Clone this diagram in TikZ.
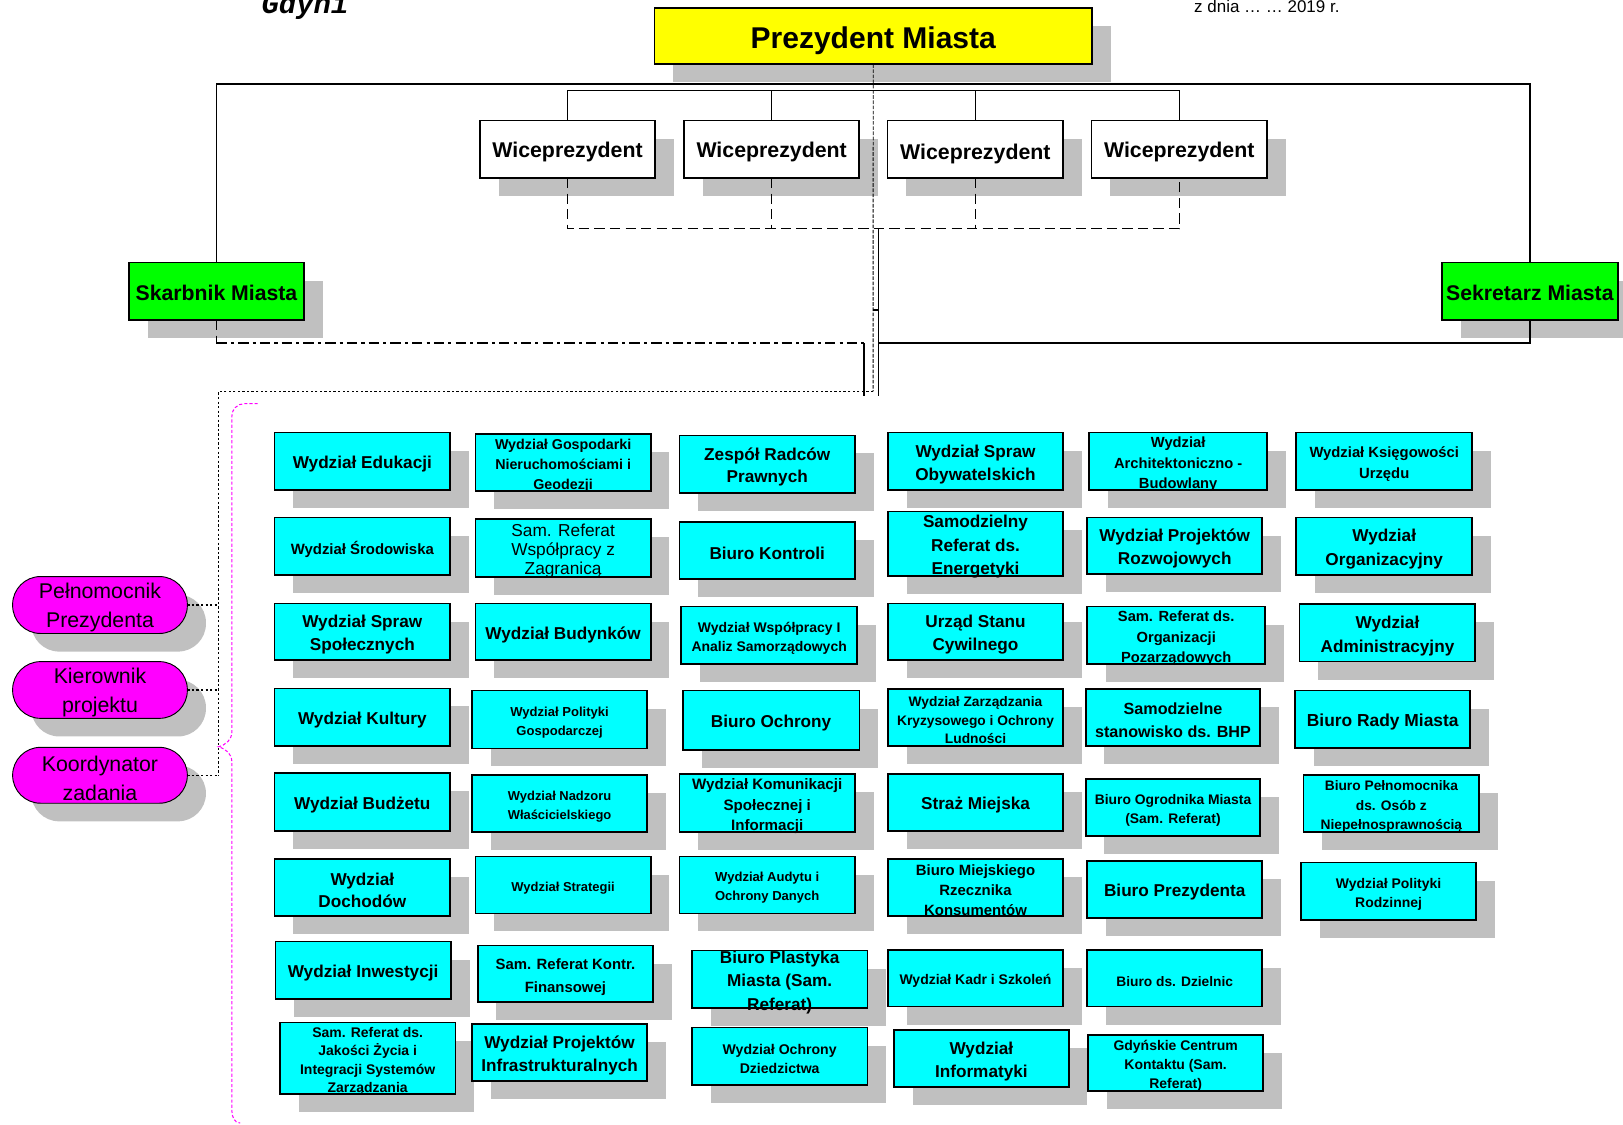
\documentclass[tikz,border=0pt]{standalone}
\usepackage{fontspec}
\setmainfont{Liberation Sans}
\newfontfamily\courfam{Liberation Mono}
\usetikzlibrary{shadows}
\definecolor{shgray}{RGB}{192,192,192}
\definecolor{cyanx}{RGB}{0,255,255}
\definecolor{greenx}{RGB}{0,255,0}
\definecolor{yellowx}{RGB}{255,255,0}
\definecolor{magx}{RGB}{255,0,255}
\newcommand\fz[2]{\fontsize{#1}{#2}\selectfont\bfseries}
\newcommand\fr[2]{\fontsize{#1}{#2}\selectfont}
% #1 box style, #2 text style, #3-#6 corners, #7 name, #8 text
\newcommand\bx[8]{%
  \node[#1,minimum width={(#5)-(#3)},minimum height={(#6)-(#4)}] (#7) at ({((#3)+(#5))/2},{((#4)+(#6))/2}) {};
  \node[txt,#2] (#7t) at (#7.center) {#8};}
\tikzset{
  sh/.style={drop shadow={shadow xshift=18pt,shadow yshift=-17.5pt,opacity=1,fill=shgray}},
  basebox/.style={rectangle,draw=black,inner sep=0pt,outer sep=0pt,sh},
  txt/.style={inner sep=0pt,outer sep=0pt,align=center,yshift=-2.8pt},
  ubox/.style={basebox,fill=cyanx,line width=1.6pt},
  vpbox/.style={basebox,fill=white,line width=1.5pt},
  gbox/.style={basebox,fill=greenx,line width=1.5pt},
  ybox/.style={basebox,fill=yellowx,line width=1.5pt},
  pill/.style={basebox,fill=magx,line width=0.9pt,rounded corners=27pt},
  tL/.style={font=\fz{16.6}{22}},
  tVP/.style={font=\fz{20.6}{24}},
  frameline/.style={line width=1.4pt},
  busline/.style={line width=1.3pt},
  thinbus/.style={line width=0.8pt},
  vpdash/.style={line width=1.3pt,dash pattern=on 10pt off 5pt},
  cdash/.style={line width=0.9pt,dash pattern=on 3.5pt off 1.5pt},
  solidline/.style={line width=1.3pt},
  dashdotline/.style={line width=1.3pt,dash pattern=on 10pt off 4pt on 3pt off 4pt},
  dotline/.style={line width=1.2pt,dash pattern=on 2.2pt off 2.2pt},
  braceline/.style={magx,line width=1pt,dash pattern=on 3pt off 2pt},
}
\begin{document}
\begin{tikzpicture}[x=1pt,y=-1pt]
\useasboundingbox (0,0) rectangle (1568,1086);
% header texts
\node[anchor=base west,inner sep=0pt,font={\fontsize{28}{30}\courfam\bfseries\itshape}] (gdyni) at (252.5,13.5) {Gdyni};
\node[anchor=base west,inner sep=0pt,font=\fr{16.4}{18}] (zdnia) at (1153.5,12.5) {z dnia … … 2019 r.};
% top level
\bx{ybox}{font=\fz{29}{32},yshift=-2pt}{632.3}{7.5}{1055}{62}{prez}{Prezydent Miasta}
\bx{vpbox}{tVP}{463.7}{116.6}{632.9}{172}{vp1}{Wiceprezydent}
\bx{vpbox}{tVP}{661}{116.6}{830}{172}{vp2}{Wiceprezydent}
\bx{vpbox}{tVP,yshift=-2pt}{857.6}{116.6}{1027}{172}{vp3}{Wiceprezydent}
\bx{vpbox}{tVP}{1054.3}{116.6}{1224.2}{172}{vp4}{Wiceprezydent}
\bx{gbox}{font=\fz{20.5}{24},yshift=1.3pt}{124.6}{253.8}{293.7}{309.2}{skarb}{Skarbnik Miasta}
\bx{gbox}{font=\fz{20.5}{24},yshift=1.3pt}{1393}{253.8}{1563}{309.2}{sekr}{Sekretarz Miasta}
% pills
\bx{pill}{font=\fr{20.6}{28}}{12.2}{557}{181}{612}{pel}{Pełnomocnik\\Prezydenta}
\bx{pill}{font=\fr{20.6}{28}}{12.2}{639.2}{181}{694}{kier}{Kierownik\\projektu}
\bx{pill}{font=\fr{20.6}{28}}{12.2}{722}{181}{776}{koord}{Koordynator\\zadania}
% column 1
\bx{ubox}{tL}{265.3}{418}{434.8}{473.4}{c1r1}{Wydział Edukacji}
\bx{ubox}{font=\fz{14.4}{19}}{265.3}{500}{434.8}{555.5}{c1r2}{Wydział Środowiska}
\bx{ubox}{tL}{265.3}{583}{434.8}{637.6}{c1r3}{Wydział Spraw\\Społecznych}
\bx{ubox}{tL}{265.3}{665}{434.8}{720.7}{c1r4}{Wydział Kultury}
\bx{ubox}{tL}{265.3}{747}{434.8}{802.8}{c1r5}{Wydział Budżetu}
\bx{ubox}{tL}{265.3}{829.6}{434.8}{885}{c1r6}{Wydział\\Dochodów}
\bx{ubox}{tL}{266}{909.7}{435.6}{965}{c1r7}{Wydział Inwestycji}
\bx{ubox}{font=\fz{13.5}{18}}{270.4}{988}{440}{1057.2}{c1r8}{Sam. Referat ds.\\Jakości Życia i\\Integracji Systemów\\Zarządzania}
% column 2
\bx{ubox}{font=\fz{13.8}{19.5}}{459.3}{419.6}{628.8}{474.4}{c2r1}{Wydział Gospodarki\\Nieruchomościami i\\Geodezji}
\bx{ubox}{font=\fr{16.7}{18.5}}{459.3}{501.7}{628.8}{557.7}{c2r2}{Sam. Referat\\Współpracy z\\Zagranicą}
\bx{ubox}{tL}{459.3}{583}{628.8}{637.6}{c2r3}{Wydział Budynków}
\bx{ubox}{font=\fz{12.6}{18}}{455.9}{667.2}{625.3}{723}{c2r4}{Wydział Polityki\\Gospodarczej}
\bx{ubox}{font=\fz{12.5}{18}}{455.9}{748.7}{625.3}{804.1}{c2r5}{Wydział Nadzoru\\Właścicielskiego}
\bx{ubox}{font=\fz{12.5}{18}}{459.3}{827.6}{628.8}{882.4}{c2r6}{Wydział Strategii}
\bx{ubox}{font=\fz{14.4}{22}}{461.5}{913.6}{631}{968.3}{c2r7}{Sam. Referat Kontr.\\Finansowej}
\bx{ubox}{tL}{455.9}{989.3}{625.3}{1044.3}{c2r8}{Wydział Projektów\\Infrastrukturalnych}
% column 3
\bx{ubox}{tL}{656.5}{420.6}{826}{476}{c3r1}{Zespół Radców\\Prawnych}
\bx{ubox}{tL}{656.5}{504}{826}{559.4}{c3r2}{Biuro Kontroli}
\bx{ubox}{font=\fz{13.5}{18}}{658.2}{586}{828}{641.8}{c3r3}{Wydział Współpracy I\\Analiz Samorządowych}
\bx{ubox}{tL}{659.8}{667.2}{830.2}{724.6}{c3r4}{Biuro Ochrony}
\bx{ubox}{font=\fz{14.6}{19.5}}{656.5}{748}{826}{804}{c3r5}{Wydział Komunikacji\\Społecznej i\\Informacji}
\bx{ubox}{font=\fz{12.6}{18}}{656.5}{827.6}{826}{882.4}{c3r6}{Wydział Audytu i\\Ochrony Danych}
\bx{ubox}{font=\fz{16.6}{22.5}}{668.5}{918.4}{838}{974.1}{c3r7}{Biuro Plastyka\\Miasta (Sam.\\Referat)}
\bx{ubox}{font=\fz{13.6}{18}}{668.5}{992.8}{838}{1048.2}{c3r8}{Wydział Ochrony\\Dziedzictwa}
% column 4
\bx{ubox}{tL}{857.9}{418}{1027}{473.4}{c4r1}{Wydział Spraw\\Obywatelskich}
\bx{ubox}{font=\fz{16.6}{22.5}}{857.9}{494.3}{1027}{556.5}{c4r2}{Samodzielny\\Referat ds.\\Energetyki}
\bx{ubox}{tL}{857.9}{583}{1027}{637.6}{c4r3}{Urząd Stanu\\Cywilnego}
\bx{ubox}{font=\fz{13.3}{17.5}}{857.9}{665.4}{1027}{720.4}{c4r4}{Wydział Zarządzania\\Kryzysowego i Ochrony\\Ludności}
\bx{ubox}{tL}{857.9}{747.8}{1027}{802.8}{c4r5}{Straż Miejska}
\bx{ubox}{font=\fz{14.4}{19}}{857.9}{829.6}{1027}{885}{c4r6}{Biuro Miejskiego\\Rzecznika\\Konsumentów}
\bx{ubox}{font=\fz{13.5}{18}}{857.9}{917.8}{1027}{972.5}{c4r7}{Wydział Kadr i Szkoleń}
\bx{ubox}{tL}{863.6}{995}{1032.6}{1050.4}{c4r8}{Wydział\\Informatyki}
% column 5
\bx{ubox}{font=\fz{14.2}{19.5}}{1052.3}{418}{1224.2}{473.4}{c5r1}{Wydział\\Architektoniczno -\\Budowlany}
\bx{ubox}{tL}{1050.4}{500.1}{1219.4}{554.5}{c5r2}{Wydział Projektów\\Rozwojowych}
\bx{ubox}{font=\fz{14.2}{19.5}}{1050.4}{586.1}{1222.3}{641.5}{c5r3}{Sam. Referat ds.\\Organizacji\\Pozarządowych}
\bx{ubox}{font=\fz{15.6}{22}}{1048.9}{665.4}{1217.6}{720.4}{c5r4}{Samodzielne\\stanowisko ds. BHP}
\bx{ubox}{font=\fz{13.4}{18}}{1048.9}{752.3}{1217.6}{807.7}{c5r5}{Biuro Ogrodnika Miasta\\(Sam. Referat)}
\bx{ubox}{tL}{1050.4}{831.5}{1219.4}{886.9}{c5r6}{Biuro Prezydenta}
\bx{ubox}{font=\fz{13.3}{18}}{1050.4}{917.8}{1219.4}{972.5}{c5r7}{Biuro ds. Dzielnic}
\bx{ubox}{font=\fz{13.5}{18}}{1051.3}{999.9}{1220.3}{1054}{c5r8}{Gdyńskie Centrum\\Kontaktu (Sam.\\Referat)}
% column 6
\bx{ubox}{font=\fz{14.3}{20}}{1252.3}{418}{1422.3}{473.4}{c6r1}{Wydział Księgowości\\Urzędu}
\bx{ubox}{font=\fz{16.6}{23}}{1252.3}{500}{1422.3}{555.5}{c6r2}{Wydział\\Organizacyjny}
\bx{ubox}{font=\fz{16.6}{23}}{1255.6}{583.8}{1425.3}{639.2}{c6r3}{Wydział\\Administracyjny}
\bx{ubox}{font=\fz{16.8}{22}}{1251.4}{667.2}{1420.4}{722.6}{c6r4}{Biuro Rady Miasta}
\bx{ubox}{font=\fz{13.3}{19}}{1259.4}{748.7}{1429}{804.1}{c6r5}{Biuro Pełnomocnika\\ds. Osób z\\Niepełnosprawnością}
\bx{ubox}{font=\fz{13.5}{18}}{1257}{833.4}{1426.1}{888.8}{c6r6}{Wydział Polityki\\Rodzinnej}
% ---------- connectors ----------
\coordinate (ftop) at (843.5,81);
\draw[frameline] (skarb.north) |- (ftop) -| (sekr.north);
\coordinate (vpbus) at (843.5,87.5);
\draw[busline] (vp1.north) |- (vpbus) -| (vp3.north);
\draw[busline] (vp2.north) -- (vp2.north |- vpbus);
\draw[thinbus] (vp3.north |- vpbus) -| (vp4.north);
\coordinate (vpd) at (843.5,221);
\draw[vpdash] (vp1.south) |- (vpd) -| (vp4.south);
\draw[vpdash] (vp2.south) -- (vp2.south |- vpd);
\draw[vpdash] (vp3.south) -- (vp3.south |- vpd);
% central lines
\coordinate (cend) at (843.5,378);
\draw[cdash] (prez.south) -- (cend);
\coordinate (sa) at (849,221);
\coordinate (sb) at (849,383);
\coordinate (stick) at (849,299.5);
\coordinate (sticke) at (843.5,299.5);
\draw[solidline] (sa) -- (sb);
\draw[solidline] (stick) -- (sticke);
% bottom frame
\coordinate (fbl) at (834.7,331.5);
\coordinate (fbr) at (849,331.5);
\coordinate (fbe) at (834.7,383);
\draw[vpdash] (skarb.south) -- (skarb.south |- fbl);
\draw[dashdotline] (skarb.south |- fbl) -- (fbl);
\draw[frameline] (sekr.south) |- (fbr);
\draw[solidline] (fbl) -- (fbe);
% dotted links to pills
\coordinate (dl) at (211,378);
\draw[dotline] (cend) -- (dl) -- (dl |- koord.east);
\draw[dotline] (pel.east) -- (pel.east -| dl);
\draw[dotline] (kier.east) -- (kier.east -| dl);
\draw[dotline] (koord.east) -- (koord.east -| dl);
% magenta brace
\coordinate (brt) at (249,390);
\coordinate (brm) at (211,721.5);
\coordinate (brb) at (232,1085);
\draw[braceline] (brt) -- (236,390) to[out=180,in=90] (224,402) -- (224,707)
  to[out=-90,in=15] (brm) to[out=-15,in=90] (224,736) -- (224,1073) to[out=-90,in=180] (brb);
\end{tikzpicture}
\end{document}
